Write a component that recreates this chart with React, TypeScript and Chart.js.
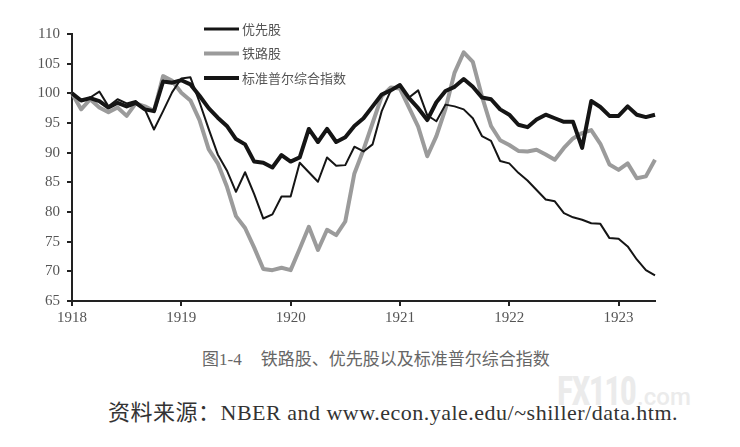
import React, { useEffect, useRef } from "react";
import { Chart, registerables } from "chart.js";

Chart.register(...registerables);

// Monthly observations, January 1918 to May 1923
const months = [
  "1918-01", "1918-02", "1918-03", "1918-04", "1918-05", "1918-06", "1918-07", "1918-08", "1918-09", "1918-10", "1918-11", "1918-12",
  "1919-01", "1919-02", "1919-03", "1919-04", "1919-05", "1919-06", "1919-07", "1919-08", "1919-09", "1919-10", "1919-11", "1919-12",
  "1920-01", "1920-02", "1920-03", "1920-04", "1920-05", "1920-06", "1920-07", "1920-08", "1920-09", "1920-10", "1920-11", "1920-12",
  "1921-01", "1921-02", "1921-03", "1921-04", "1921-05", "1921-06", "1921-07", "1921-08", "1921-09", "1921-10", "1921-11", "1921-12",
  "1922-01", "1922-02", "1922-03", "1922-04", "1922-05", "1922-06", "1922-07", "1922-08", "1922-09", "1922-10", "1922-11", "1922-12",
  "1923-01", "1923-02", "1923-03", "1923-04", "1923-05",
];

// 优先股 (preferred stocks)
const preferred = [
  100, 98.7, 99.3, 100.3, 97.8, 99.0, 98.3, 98.7, 97.3, 93.9,
  97.0, 100.2, 102.5, 102.7, 98.5, 94.0, 89.7, 87.0, 83.4, 86.7,
  83.0, 78.9, 79.6, 82.6, 82.6, 88.3, 86.7, 85.1, 89.2, 87.8,
  87.9, 91.0, 90.2, 91.4, 97.0, 100.5, 101.3, 99.3, 100.5, 96.3,
  95.3, 98.1, 97.8, 97.3, 95.8, 92.8, 92.0, 88.6, 88.2, 86.6,
  85.3, 83.7, 82.1, 81.8, 79.8, 79.1, 78.7, 78.1, 78.0, 75.6,
  75.5, 74.2, 72.0, 70.2, 69.3,
];

// 铁路股 (railroad stocks)
const railroad = [
  100, 97.3, 99.0, 97.6, 96.8, 97.6, 96.2, 98.3, 97.8, 97.0,
  102.9, 102.1, 100.1, 98.8, 95.5, 90.6, 88.2, 84.3, 79.3, 77.3,
  74.0, 70.4, 70.2, 70.6, 70.2, 73.8, 77.5, 73.6, 77.0, 76.1,
  78.4, 86.5, 90.5, 95.0, 99.5, 101.0, 100.8, 97.6, 94.4, 89.4,
  92.8, 97.4, 103.5, 106.9, 105.3, 99.5, 94.5, 92.1, 91.3, 90.3,
  90.2, 90.5, 89.7, 88.8, 90.8, 92.4, 93.3, 93.8, 91.5, 88.0,
  87.1, 88.2, 85.7, 86.0, 88.8,
];

// 标准普尔综合指数 (S&P composite)
const composite = [
  100, 98.8, 99.2, 98.7, 97.6, 98.4, 97.8, 98.4, 97.3, 97.0,
  102.0, 101.8, 102.2, 101.5, 99.6, 97.5, 95.9, 94.5, 92.3, 91.4,
  88.5, 88.3, 87.5, 89.6, 88.5, 89.2, 94.0, 91.8, 94.0, 91.8,
  92.6, 94.5, 95.8, 97.8, 99.8, 100.5, 101.4, 99.2, 97.5, 95.5,
  98.5, 100.4, 101.1, 102.4, 101.1, 99.3, 99.0, 97.3, 96.4, 94.7,
  94.3, 95.6, 96.4, 95.8, 95.2, 95.2, 90.8, 98.7, 97.7, 96.2,
  96.2, 97.8, 96.4, 96.0, 96.4,
];

const seriesLabels = ["优先股", "铁路股", "标准普尔综合指数"];
const yMin = 65;
const yMax = 110;
const yStep = 5;

const caption = "图1-4";
const captionTitle = "铁路股、优先股以及标准普尔综合指数";
const sourceText = "资料来源：NBER and www.econ.yale.edu/~shiller/data.htm.";

const SERIF = '"Liberation Serif", "Times New Roman", Times, "DejaVu Serif", serif';

const stackedLegend = {
  id: "stackedLegend",
  afterDraw(chart: any) {
    const ctx = chart.ctx;
    const area = chart.chartArea;
    const x0 = area.left + 132;
    const sampleLen = 35;
    const firstY = area.top - 5;
    const gap = 24.5;
    ctx.save();
    chart.data.datasets.forEach((ds: any, i: number) => {
      const y = firstY + i * gap;
      ctx.beginPath();
      ctx.strokeStyle = ds.borderColor;
      ctx.lineWidth = ds.legendWidth;
      ctx.lineCap = "butt";
      ctx.moveTo(x0, y);
      ctx.lineTo(x0 + sampleLen, y);
      ctx.stroke();
      ctx.fillStyle = "#555";
      ctx.font = '13px "Noto Sans CJK SC", sans-serif';
      ctx.textBaseline = "middle";
      ctx.textAlign = "left";
      ctx.fillText(ds.label, x0 + sampleLen + 3, y);
    });
    ctx.restore();
  },
};

export default function App() {
  const canvasRef = useRef<HTMLCanvasElement | null>(null);

  useEffect(() => {
    if (!canvasRef.current) return;
    const chart = new Chart(canvasRef.current, {
      type: "line",
      data: {
        labels: months,
        datasets: [
          {
            label: seriesLabels[0],
            data: preferred,
            borderColor: "#151515",
            borderWidth: 2,
            legendWidth: 3,
            pointRadius: 0,
            tension: 0,
            borderJoinStyle: "round",
            order: 2,
          } as any,
          {
            label: seriesLabels[1],
            data: railroad,
            borderColor: "#9b9b9b",
            borderWidth: 4,
            legendWidth: 4,
            pointRadius: 0,
            tension: 0,
            borderJoinStyle: "round",
            order: 3,
          } as any,
          {
            label: seriesLabels[2],
            data: composite,
            borderColor: "#151515",
            borderWidth: 4,
            legendWidth: 4,
            pointRadius: 0,
            tension: 0,
            borderJoinStyle: "round",
            order: 1,
          } as any,
        ],
      },
      options: {
        animation: false,
        responsive: false,
        layout: { padding: { top: 34, right: 85, left: 0, bottom: 0 } },
        plugins: {
          legend: { display: false },
          tooltip: { enabled: false },
        },
        scales: {
          x: {
            type: "category",
            afterBuildTicks: (scale: any) => {
              scale.ticks = scale.ticks.filter((t: any) => months[t.value].endsWith("-01"));
            },
            afterFit: (scale: any) => {
              scale.height = 29;
            },
            ticks: {
              autoSkip: false,
              maxRotation: 0,
              padding: 3,
              color: "#555",
              font: { family: SERIF, size: 15 },
              callback: (value: any) => months[value as number].slice(0, 4),
            },
            grid: {
              drawOnChartArea: false,
              drawTicks: true,
              tickLength: 5,
              color: "#222",
              lineWidth: 2,
            },
            border: { display: true, color: "#222", width: 2 },
          },
          y: {
            min: yMin,
            max: yMax,
            afterFit: (scale: any) => {
              scale.width = 72;
            },
            ticks: {
              stepSize: yStep,
              padding: 7,
              color: "#555",
              font: { family: SERIF, size: 15 },
            },
            grid: {
              drawOnChartArea: false,
              drawTicks: true,
              tickLength: 5,
              color: "#222",
              lineWidth: 2,
            },
            border: { display: true, color: "#222", width: 2 },
          },
        },
      },
      plugins: [stackedLegend],
    } as any);
    return () => chart.destroy();
  }, []);

  return (
    <div
      style={{
        position: "absolute",
        left: 0,
        top: 0,
        width: 740,
        height: 447,
        background: "#fff",
        overflow: "hidden",
      }}
    >
      <canvas
        ref={canvasRef}
        width={740}
        height={330}
        style={{ position: "absolute", left: 0, top: 0, width: 740, height: 330 }}
      />
      <div
        style={{
          position: "absolute",
          left: 202,
          top: 350,
          fontFamily: SERIF + ', "Noto Sans CJK SC"',
          fontSize: 17,
          lineHeight: "20px",
          color: "#666",
          whiteSpace: "nowrap",
        }}
      >
        {caption}
        <span style={{ display: "inline-block", width: 19 }} />
        {captionTitle}
      </div>
      <div
        style={{
          position: "absolute",
          left: 557,
          top: 372,
          fontFamily: '"Liberation Sans Narrow", "Roboto Condensed", Roboto, sans-serif',
          fontWeight: 700,
          color: "#ebebeb",
          whiteSpace: "nowrap",
          lineHeight: "40px",
        }}
      >
        <span style={{ fontSize: 40, letterSpacing: -2, display: "inline-block", transform: "scaleX(0.85)", transformOrigin: "left" }}>FX110</span>
        <span style={{ fontSize: 24, fontFamily: "Roboto, sans-serif", fontWeight: 500, marginLeft: -12 }}>.com</span>
      </div>
      <div
        style={{
          position: "absolute",
          left: 108,
          top: 400,
          fontFamily: SERIF + ', "Noto Sans CJK SC"',
          fontSize: 22,
          lineHeight: "26px",
          color: "#333",
          letterSpacing: 0.5,
          whiteSpace: "nowrap",
        }}
      >
        {sourceText}
      </div>
    </div>
  );
}
